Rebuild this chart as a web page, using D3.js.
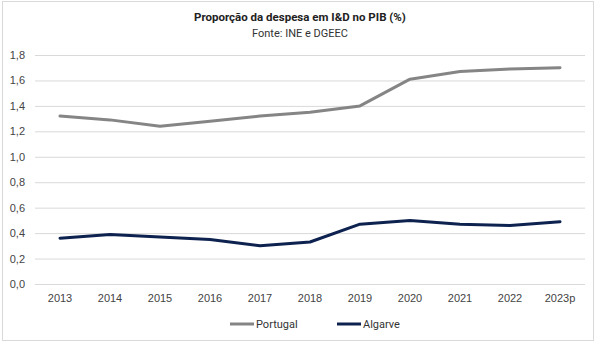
<!DOCTYPE html>
<html>
<head>
<meta charset="utf-8">
<script src="https://cdn.jsdelivr.net/npm/d3@7"></script>
<style>
  body { margin: 0; background: #fff; }
  svg { display: block; font-family: Roboto, "Noto Sans", sans-serif; }
</style>
</head>
<body>
<script>
const years = ['2013', '2014', '2015', '2016', '2017', '2018', '2019', '2020', '2021', '2022', '2023p'];
const portugal = [1.32, 1.29, 1.24, 1.28, 1.32, 1.35, 1.40, 1.61, 1.67, 1.69, 1.70];
const algarve = [0.36, 0.39, 0.37, 0.35, 0.30, 0.33, 0.47, 0.50, 0.47, 0.46, 0.49];
const yTicks = [0, 0.2, 0.4, 0.6, 0.8, 1.0, 1.2, 1.4, 1.6, 1.8];

const w = 600,
  h = 345;
const plotLeft = 35,
  plotRight = 585,
  plotTop = 55,
  plotBottom = 284;

const svg = d3.select('body').append('svg').attr('width', w).attr('height', h);

// chart area frame
svg.append('rect')
  .attr('x', 2.5).attr('y', 1.5)
  .attr('width', 591).attr('height', 339)
  .attr('fill', '#fff')
  .attr('stroke', '#d9d9d9')
  .attr('stroke-width', 1);

svg.append('text')
  .attr('x', 300).attr('y', 21)
  .attr('text-anchor', 'middle')
  .attr('font-size', 11.5)
  .attr('font-weight', 'bold')
  .attr('fill', '#222')
  .text('Proporção da despesa em I&D no PIB (%)');

svg.append('text')
  .attr('x', 300).attr('y', 37)
  .attr('text-anchor', 'middle')
  .attr('font-size', 11)
  .attr('fill', '#333')
  .text('Fonte: INE e DGEEC');

const x = d3.scaleBand().domain(years).range([plotLeft, plotRight]);
const y = d3.scaleLinear().domain([0, 1.8]).range([plotBottom, plotTop]);
const fmt = v => d3.format('.1f')(v).replace('.', ',');

// gridlines + y labels
const yAxis = svg.append('g')
  .attr('transform', `translate(${plotLeft},0)`)
  .call(d3.axisLeft(y).tickValues(yTicks).tickFormat(fmt).tickSize(-(plotRight - plotLeft)).tickPadding(10));
yAxis.select('.domain').remove();
yAxis.selectAll('line').attr('stroke', '#d9d9d9').attr('stroke-width', 1);
yAxis.selectAll('text').attr('font-size', 11).attr('fill', '#444');

const xAxis = svg.append('g')
  .attr('transform', `translate(0,${plotBottom})`)
  .call(d3.axisBottom(x).tickSize(0).tickPadding(10));
xAxis.select('.domain').remove();
xAxis.selectAll('text').attr('font-size', 11).attr('fill', '#444');

const line = d3.line()
  .x((d, i) => x(years[i]) + x.bandwidth() / 2)
  .y(d => y(d));

const series = [
  { name: 'Portugal', values: portugal, color: '#858585' },
  { name: 'Algarve', values: algarve, color: '#0e2250' }
];

svg.selectAll('path.series')
  .data(series)
  .enter()
  .append('path')
  .attr('class', 'series')
  .attr('d', d => line(d.values))
  .attr('fill', 'none')
  .attr('stroke', d => d.color)
  .attr('stroke-width', 3)
  .attr('stroke-linejoin', 'round')
  .attr('stroke-linecap', 'round');

// legend
const legendX = [230, 337];
const legend = svg.selectAll('g.legend')
  .data(series)
  .enter()
  .append('g')
  .attr('class', 'legend')
  .attr('transform', (d, i) => `translate(${legendX[i]},324)`);
legend.append('line')
  .attr('x1', 0).attr('x2', 24)
  .attr('stroke', d => d.color)
  .attr('stroke-width', 3);
legend.append('text')
  .attr('x', 26).attr('y', 4)
  .attr('font-size', 11)
  .attr('fill', '#333')
  .text(d => d.name);
</script>
</body>
</html>
